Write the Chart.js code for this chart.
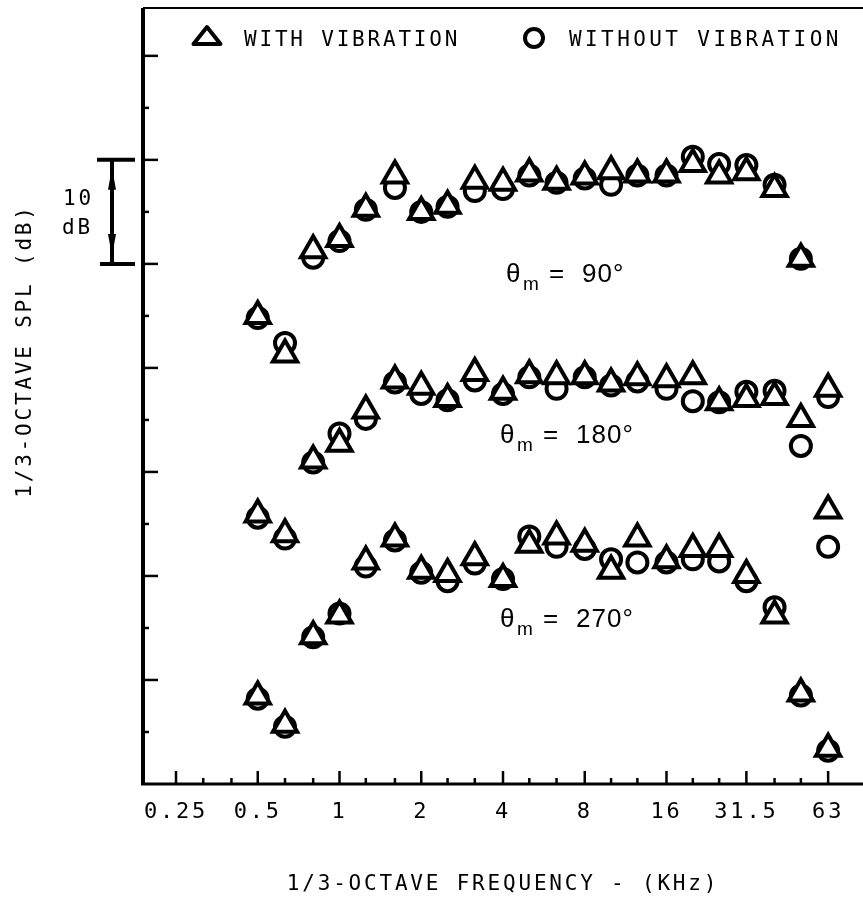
<!DOCTYPE html>
<html>
<head>
<meta charset="utf-8">
<script src="https://cdn.jsdelivr.net/npm/chart.js@4.4.1/dist/chart.umd.min.js"></script>
<style>
  html, body { margin: 0; padding: 0; background: #fff; overflow: hidden; }
  #wrap { width: 863px; height: 903px; }
  #chart { display: block; }
</style>
</head>
<body>
<div id="wrap"><canvas id="chart"></canvas></div>
<script>
// 1/3-octave bands on the axis (kHz) and the labels under the octave ticks
const bands = [0.25, 0.315, 0.4, 0.5, 0.63, 0.8, 1, 1.25, 1.6, 2, 2.5, 3.15, 4, 5, 6.3, 8, 10, 12.5, 16, 20, 25, 31.5, 40, 50, 63];
const bandLabels = ['0.25', '', '', '0.5', '', '', '1', '', '', '2', '', '', '4', '', '', '8', '', '', '16', '', '', '31.5', '', '', '63'];

// measured bands (kHz)
const freqs = [0.5, 0.63, 0.8, 1, 1.25, 1.6, 2, 2.5, 3.15, 4, 5, 6.3, 8, 10, 12.5, 16, 20, 25, 31.5, 40, 50, 63];

// SPL, dB (arbitrary zero)
const with90     = [45.0, 41.3, 51.3, 52.4, 55.3, 58.5, 55.0, 55.6, 58.0, 57.8, 58.7, 57.9, 58.4, 58.9, 58.6, 58.6, 59.6, 58.5, 58.8, 57.2, 50.5, 38.0];
const without90  = [44.8, 42.4, 50.6, 52.2, 55.2, 57.3, 55.0, 55.5, 57.0, 57.2, 58.5, 57.8, 58.2, 57.6, 58.5, 58.5, 60.3, 59.6, 59.5, 57.6, 50.5, 37.2];
const with180    = [25.9, 24.0, 31.1, 32.7, 35.9, 38.8, 38.2, 37.0, 39.5, 37.7, 39.3, 39.2, 39.2, 38.5, 39.1, 38.9, 39.2, 36.7, 37.0, 37.2, 35.1, 26.3];
const without180 = [25.6, 23.6, 30.9, 33.7, 35.1, 38.6, 37.5, 36.9, 38.8, 37.5, 39.1, 38.0, 39.1, 38.3, 38.7, 38.0, 36.8, 36.7, 37.7, 37.8, 32.5, 22.8];
const with270    = [8.4, 5.7, 14.2, 16.2, 21.4, 23.6, 20.5, 20.2, 21.8, 19.7, 23.0, 23.8, 23.1, 20.5, 23.6, 21.5, 22.6, 22.6, 20.1, 16.2, 8.7, 3.4];
const without270 = [8.2, 5.5, 14.1, 16.4, 20.9, 23.4, 20.3, 19.5, 21.2, 19.7, 23.8, 22.8, 22.6, 21.6, 21.3, 21.3, 21.6, 21.4, 19.5, 17.0, 8.5, 3.2];

const angles = ['90°', '180°', '270°'];

const MONO = '"DejaVu Sans Mono", monospace';
const SANS = '"Liberation Sans", Arial, sans-serif';

const pts = arr => arr.map((v, i) => ({ x: freqs[i], y: v }));

function mkSet(label, arr, tri) {
  return {
    label: label,
    data: pts(arr),
    showLine: false,
    pointStyle: tri ? 'triangle' : 'circle',
    pointRadius: tri ? 14 : 10,
    pointBorderWidth: 4,
    pointBorderColor: '#000',
    pointBackgroundColor: '#fff',
    order: tri ? 0 : 1
  };
}

// axes with inward ticks, the 10 dB bar, labels and legend
const decor = {
  id: 'decor',
  beforeDraw(chart) {
    const ctx = chart.ctx;
    ctx.save();
    ctx.fillStyle = '#fff';
    ctx.fillRect(0, 0, chart.width, chart.height);
    ctx.restore();
    ctx.letterSpacing = '2.8px';
  },
  beforeDatasetsDraw(chart) {
    const { ctx, chartArea: a, scales: { x, y } } = chart;
    ctx.save();
    ctx.strokeStyle = '#000';
    ctx.lineWidth = 2;
    ctx.beginPath(); ctx.moveTo(a.left, a.top); ctx.lineTo(a.right, a.top); ctx.stroke();
    ctx.lineWidth = 4;
    ctx.beginPath(); ctx.moveTo(a.left, a.top); ctx.lineTo(a.left, a.bottom + 1); ctx.stroke();
    ctx.lineWidth = 3;
    ctx.beginPath(); ctx.moveTo(a.left - 2, a.bottom); ctx.lineTo(a.right, a.bottom); ctx.stroke();

    ctx.lineWidth = 2.5;
    bands.forEach((f, i) => {
      const px = x.getPixelForValue(f);
      const len = bandLabels[i] ? 13 : 6;
      ctx.beginPath(); ctx.moveTo(px, a.bottom); ctx.lineTo(px, a.bottom - len); ctx.stroke();
    });
    for (let v = 5; v < y.max; v += 5) {
      const py = y.getPixelForValue(v);
      const len = v % 10 === 0 ? 15 : 6;
      ctx.beginPath(); ctx.moveTo(a.left, py); ctx.lineTo(a.left + len, py); ctx.stroke();
    }

    // 10 dB scale bar
    const y1 = y.getPixelForValue(60), y0 = y.getPixelForValue(50);
    ctx.lineWidth = 4;
    ctx.beginPath();
    ctx.moveTo(97, y1); ctx.lineTo(135, y1);
    ctx.moveTo(100, y0); ctx.lineTo(135, y0);
    ctx.moveTo(112, y1); ctx.lineTo(112, y0);
    ctx.stroke();
    ctx.fillStyle = '#000';
    ctx.beginPath();
    ctx.moveTo(112, y1 + 8); ctx.lineTo(108, y1 + 30); ctx.lineTo(116, y1 + 30); ctx.closePath();
    ctx.moveTo(112, y0 - 8); ctx.lineTo(108, y0 - 30); ctx.lineTo(116, y0 - 30); ctx.closePath();
    ctx.fill();
    ctx.restore();
  },
  afterDraw(chart) {
    const { ctx, scales: { x, y } } = chart;
    ctx.save();
    ctx.fillStyle = '#000';
    ctx.strokeStyle = '#000';
    ctx.letterSpacing = '2.8px';
    ctx.textBaseline = 'alphabetic';

    // legend
    ctx.font = '21px ' + MONO;
    ctx.lineWidth = 4;
    ctx.lineJoin = 'round';
    ctx.beginPath();
    ctx.moveTo(207, 27); ctx.lineTo(220.5, 44); ctx.lineTo(193.5, 44); ctx.closePath();
    ctx.stroke();
    ctx.beginPath(); ctx.arc(534, 38, 9, 0, Math.PI * 2); ctx.stroke();
    ctx.textAlign = 'left';
    ctx.fillText('WITH VIBRATION', 244, 46);
    ctx.letterSpacing = '3.4px';
    ctx.fillText('WITHOUT VIBRATION', 569, 46);
    ctx.letterSpacing = '2.8px';

    // 10 dB label
    ctx.fillText('10', 63, 205);
    ctx.fillText('dB', 62, 234);

    // y title
    ctx.save();
    ctx.translate(31, 351);
    ctx.rotate(-Math.PI / 2);
    ctx.textAlign = 'center';
    ctx.fillText('1/3-OCTAVE SPL (dB)', 0, 0);
    ctx.restore();

    // theta labels
    ctx.letterSpacing = '1px';
    const lx = x.getPixelForValue(4) - 3;
    [48.3, 32.8, 15.1].forEach((v, k) => {
      const by = y.getPixelForValue(v);
      const x0 = k === 0 ? lx + 6 : lx;
      ctx.textAlign = 'left';
      ctx.font = '26px ' + SANS;
      ctx.fillText('θ', x0, by);
      ctx.font = '19px ' + SANS;
      ctx.fillText('m', x0 + 17, by + 8);
      ctx.font = '26px ' + SANS;
      ctx.fillText('=', x0 + 43, by);
      ctx.fillText(angles[k], x0 + 76, by);
    });
    ctx.restore();
    ctx.letterSpacing = '0px';
  }
};

new Chart(document.getElementById('chart'), {
  type: 'scatter',
  data: {
    datasets: [
      mkSet('WITH VIBRATION 90', with90, true),
      mkSet('WITHOUT VIBRATION 90', without90, false),
      mkSet('WITH VIBRATION 180', with180, true),
      mkSet('WITHOUT VIBRATION 180', without180, false),
      mkSet('WITH VIBRATION 270', with270, true),
      mkSet('WITHOUT VIBRATION 270', without270, false)
    ]
  },
  options: {
    responsive: true,
    maintainAspectRatio: false,
    animation: false,
    events: [],
    layout: { autoPadding: false, padding: { top: 8, right: 0, bottom: 0, left: 0 } },
    plugins: { legend: { display: false }, tooltip: { enabled: false } },
    scales: {
      x: {
        type: 'logarithmic',
        bounds: 'data',
        min: 0.18898,
        max: 84.67,
        grid: { display: false, drawTicks: false },
        border: { display: false },
        afterBuildTicks: s => { s.ticks = bands.map(v => ({ value: v })); },
        afterFit: s => { s.height = 119; },
        ticks: {
          autoSkip: false,
          maxRotation: 0,
          padding: 15,
          color: '#000',
          font: { family: MONO, size: 22 },
          callback: (v, i) => bandLabels[i]
        },
        title: {
          display: true,
          text: '1/3-OCTAVE FREQUENCY - (KHz)',
          color: '#000',
          font: { family: MONO, size: 21 },
          padding: { top: 0, bottom: 6 }
        }
      },
      y: {
        type: 'linear',
        bounds: 'data',
        min: 0,
        max: 74.6,
        grid: { display: false, drawTicks: false },
        border: { display: false },
        ticks: { display: false },
        afterFit: s => { s.width = 143; }
      }
    }
  },
  plugins: [decor]
});
</script>
</body>
</html>
